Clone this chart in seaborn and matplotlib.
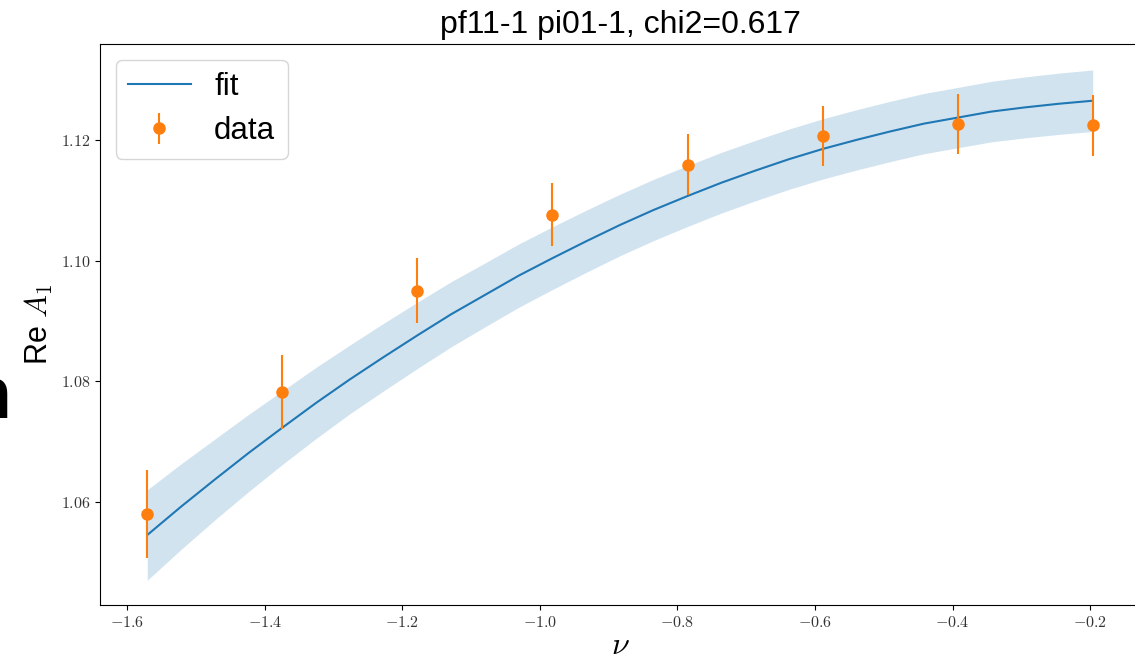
import numpy as np
import pandas as pd
import matplotlib
matplotlib.use("Agg")
import matplotlib.pyplot as plt
import matplotlib.ticker as mticker
import seaborn as sns

# ==========================================
# DATA
# ==========================================
nu_data = [-1.5708, -1.3744, -1.1781, -0.9817, -0.7854, -0.5890, -0.3927, -0.1963]
re_a1 = [1.0580, 1.0782, 1.0950, 1.1076, 1.1159, 1.1207, 1.1226, 1.1224]
re_a1_err = [0.0073, 0.0061, 0.0054, 0.0052, 0.0051, 0.0050, 0.0050, 0.0050]

nu_fit = [-1.5708, -1.5217, -1.4726, -1.4235, -1.3744, -1.3254, -1.2763, -1.2272,
          -1.1781, -1.1290, -1.0799, -1.0308, -0.9817, -0.9327, -0.8836, -0.8345,
          -0.7854, -0.7363, -0.6872, -0.6381, -0.5890, -0.5400, -0.4909, -0.4418,
          -0.3927, -0.3436, -0.2945, -0.2454, -0.1963]
fit_mean = [1.0545, 1.0592, 1.0637, 1.0681, 1.0723, 1.0764, 1.0803, 1.0840,
            1.0876, 1.0911, 1.0943, 1.0975, 1.1004, 1.1032, 1.1059, 1.1084,
            1.1107, 1.1129, 1.1149, 1.1168, 1.1185, 1.1200, 1.1214, 1.1227,
            1.1237, 1.1247, 1.1254, 1.1260, 1.1265]
fit_err = [0.0075, 0.0071, 0.0067, 0.0064, 0.0061, 0.0059, 0.0057, 0.0056,
           0.0055, 0.0054, 0.0053, 0.00525, 0.0052, 0.00515, 0.0051, 0.00508,
           0.00505, 0.00503, 0.00501, 0.0050, 0.0050, 0.0050, 0.0050, 0.0050,
           0.0050, 0.00502, 0.00505, 0.00508, 0.0051]

title = "pf11-1 pi01-1, chi2=0.617"

# ==========================================
# PLOT
# ==========================================
plt.rcParams['mathtext.fontset'] = 'cm'
plt.rcParams['font.family'] = ['Liberation Sans', 'DejaVu Sans']

df_fit = pd.DataFrame({'nu': nu_fit, 'mean': fit_mean, 'err': fit_err})
df_fit['lo'] = df_fit['mean'] - df_fit['err']
df_fit['hi'] = df_fit['mean'] + df_fit['err']
df_data = pd.DataFrame({'nu': nu_data, 'val': re_a1, 'err': re_a1_err})

fig = plt.figure(figsize=(11.35, 6.66), dpi=100)
ax = fig.add_axes([0.0881, 0.0916, 0.9163, 0.8423])

ax.fill_between(df_fit['nu'], df_fit['lo'], df_fit['hi'], color='#1f77b4', alpha=0.2, lw=0)
sns.lineplot(data=df_fit, x='nu', y='mean', ax=ax, color='#1f77b4', lw=1.5, label='fit')
ax.errorbar(df_data['nu'], df_data['val'], yerr=df_data['err'], fmt='o', color='#ff7f0e',
            ms=8, elinewidth=1.5, label='data')

ax.set_xlim(-1.6395, -0.1276)
ax.set_ylim(1.0429, 1.1359)
ax.set_xticks([-1.6, -1.4, -1.2, -1.0, -0.8, -0.6, -0.4, -0.2])
ax.set_yticks([1.06, 1.08, 1.10, 1.12])
# serif (computer modern) tick labels like a usetex figure
ax.xaxis.set_major_formatter(mticker.FuncFormatter(lambda v, p: f'${v:.1f}$'))
ax.yaxis.set_major_formatter(mticker.FuncFormatter(lambda v, p: f'${v:.2f}$'))
ax.tick_params(labelsize=11.5, labelcolor='#333333')

ax.set_title(title, fontsize=23, pad=8)
ax.set_ylabel(r'Re $A_1$', fontsize=22, labelpad=4)
ax.set_xlabel(r'$\nu$', fontsize=23, labelpad=1)

ax.legend(loc='upper left', fontsize=22.5, handlelength=2.0, handletextpad=0.75,
          borderpad=0.4, labelspacing=0.45)

# edge of a cut-off glyph at the left border
fig.text(0.0100, 0.372, 'n', fontsize=54, fontweight='bold', ha='right', va='baseline')

fig.savefig('out.png', dpi=100)
